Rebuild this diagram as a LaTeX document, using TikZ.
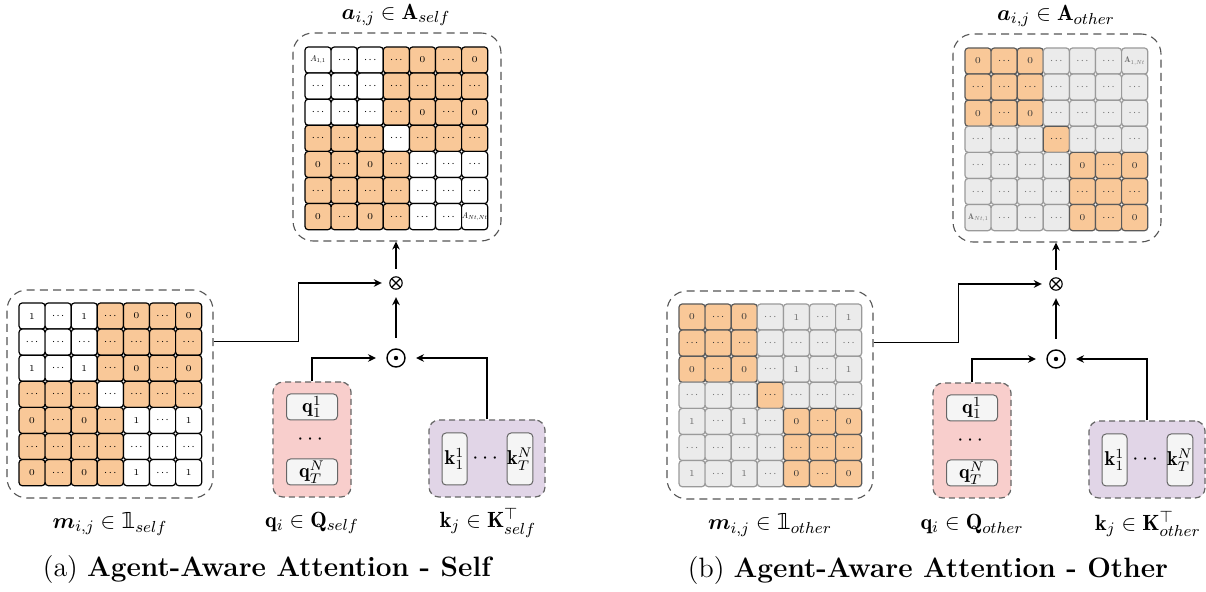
\documentclass[tikz,border=0pt]{standalone}
\usepackage{amsmath}
\usepackage{fontspec}
\newfontfamily\dvsfam{DejaVu Sans}
\usetikzlibrary{arrows.meta,calc}

% double-struck one for the indicator set
\newcommand\indic{\text{\dvsfam\iffontchar\font"1D7D9 \symbol{"1D7D9}\else\rmfamily 1\kern-0.28em l\fi}}
% small entries of the grids
\newcommand\cdt{${\cdot}{\cdot}{\cdot}$}
\newcommand\entry[1]{{\fontsize{10}{12}\selectfont\scalebox{0.42}{$#1$}}}

\definecolor{cellor}{HTML}{F9C898}
\definecolor{orbd}{HTML}{5A5A5A}
\definecolor{ortxt}{HTML}{333333}
\definecolor{cellgr}{HTML}{EBEBEB}
\definecolor{grbd}{HTML}{9A9A9A}
\definecolor{grtxt}{HTML}{707070}
\definecolor{dashgray}{HTML}{555555}
\definecolor{qfill}{HTML}{F8CECC}
\definecolor{kfill}{HTML}{E1D5E7}
\definecolor{vecfill}{HTML}{F5F5F5}
\definecolor{vecbd}{HTML}{666666}

\tikzset{
  cellbase/.style={rectangle, rounded corners=1.6pt, minimum width=13.05pt,
    minimum height=13.05pt, inner sep=0pt, line width=0.6pt,
    font=\fontsize{4.5}{5.4}\selectfont},
  dbox/.style={rectangle, draw=dashgray, dash pattern=on 4pt off 2.6pt,
    line width=0.55pt, rounded corners=10pt, inner sep=0pt},
  vecgroup/.style={rectangle, draw=vecbd, dash pattern=on 3pt off 2pt,
    line width=0.6pt, rounded corners=5pt, inner sep=0pt},
  vecbox/.style={rectangle, draw=vecbd, fill=vecfill, rounded corners=2pt,
    line width=0.5pt, inner sep=0pt, font=\fontsize{10}{11}\selectfont},
  arr/.style={-{Stealth[length=4pt,width=3.8pt]}, line width=0.75pt},
  lab/.style={font=\fontsize{11}{13}\selectfont},
  capfont/.style={font=\fontsize{14}{17}\selectfont},
  odotnode/.style={circle, draw, line width=0.7pt, minimum size=9pt,
    inner sep=0pt, outer sep=5.5pt},
  otimesnode/.style={circle, draw, line width=0.55pt, minimum size=6.2pt,
    inner sep=0pt, outer sep=4pt},
}

% 7x7 grid of cells: #1 name prefix, #2/#3 top-left corner, #4 kind
% kind 1: self scores, 2: self mask, 3: other scores, 4: other mask
\newcommand\gridmat[4]{%
  \foreach \gr in {1,...,7}{%
    \foreach \gc in {1,...,7}{%
      \pgfmathtruncatemacro\blk{((\gr<4)&&(\gc<4))||((\gr>4)&&(\gc>4))||((\gr==4)&&(\gc==4))}%
      \pgfmathtruncatemacro\key{(mod(\gr,2)==1)&&(mod(\gc,2)==1)}%
      \def\celltxt{\cdt}%
      \ifnum#4<3
        \def\ctext{black}\def\cdraw{black}%
        \ifnum\blk=1 \def\cfill{white}\else\def\cfill{cellor}\fi
      \else
        \ifnum\blk=1 \def\cfill{cellor}\def\cdraw{orbd}\def\ctext{ortxt}%
        \else\def\cfill{cellgr}\def\cdraw{grbd}\def\ctext{grtxt}\fi
      \fi
      \ifcase#4\or
        \ifnum\key=1 \ifnum\blk=0 \def\celltxt{0}\fi\fi
        \ifnum\gr\gc=11 \def\celltxt{\entry{A_{1,1}}}\fi
        \ifnum\gr\gc=77 \def\celltxt{\entry{A_{Nt,Nt}}}\fi
      \or
        \ifnum\key=1 \ifnum\blk=1 \def\celltxt{1}\else\def\celltxt{0}\fi\fi
      \or
        \ifnum\key=1 \ifnum\blk=1 \def\celltxt{0}\fi\fi
        \ifnum\gr\gc=17 \def\celltxt{\entry{\mathbf{A}_{1,Nt}}}\fi
        \ifnum\gr\gc=71 \def\celltxt{\entry{\mathbf{A}_{Nt,1}}}\fi
      \or
        \ifnum\key=1 \ifnum\blk=1 \def\celltxt{0}\else\def\celltxt{1}\fi\fi
      \fi
      \node[cellbase, fill=\cfill, draw=\cdraw, text=\ctext] (#1-\gr-\gc)
        at ({#2+(\gc-0.5)*26.1},{#3+(\gr-0.5)*26.1}) {\celltxt};
    }%
  }%
}

% one attention panel: #1 prefix, #2 score kind, #3 mask kind,
% #4 subscript, #5 caption word, #6 letter
\newcommand\attnpanel[6]{%
  \node[lab] (#1title) at (396,15) {$\boldsymbol{a}_{i,j} \in \mathbf{A}_{#4}$};
  \node[dbox, minimum width=104pt, minimum height=104pt] (#1boxA) at (397,137) {};
  \gridmat{#1A}{305}{47}{#2}
  % combination operators
  \node[otimesnode] (#1ot) at (396,283) {};
  \draw[line width=0.55pt] ([shift={(45:3.1pt)}]#1ot.center) -- ([shift={(225:3.1pt)}]#1ot.center);
  \draw[line width=0.55pt] ([shift={(135:3.1pt)}]#1ot.center) -- ([shift={(315:3.1pt)}]#1ot.center);
  \node[odotnode] (#1od) at (396,358) {};
  \fill (#1od.center) circle (1.1pt);
  % mask
  \node[dbox, minimum width=103pt, minimum height=104pt] (#1boxM) at (110,394) {};
  \gridmat{#1M}{19}{303}{#3}
  % queries
  \node[vecgroup, fill=qfill, minimum width=39pt, minimum height=57.5pt] (#1boxQ) at (312,439.5) {};
  \node[vecbox, minimum width=25.5pt, minimum height=13pt] (#1q1) at (312,407) {$\mathbf{q}_1^1$};
  \node[font=\fontsize{11}{13}\selectfont, inner sep=0pt] (#1qd) at (312,440) {$\cdots$};
  \node[vecbox, minimum width=25.5pt, minimum height=13pt] (#1qN) at (312,472) {$\mathbf{q}_T^N$};
  % keys
  \node[vecgroup, fill=kfill, minimum width=58pt, minimum height=38.5pt] (#1boxK) at (487,458.5) {};
  \node[vecbox, minimum width=12.5pt, minimum height=26pt] (#1k1) at (454.5,459) {$\mathbf{k}_1^1$};
  \node[font=\fontsize{11}{13}\selectfont, inner sep=0pt] (#1kd) at (487,459) {$\cdots$};
  \node[vecbox, minimum width=12.5pt, minimum height=26pt] (#1kN) at (520,459) {$\mathbf{k}_T^N$};
  % connectors
  \draw[arr] (#1ot.north) -- (#1ot.north |- #1boxA.south);
  \draw[arr] (#1od.north) -- (#1ot.south);
  \draw[arr] ($(#1boxM.north east)!0.25!(#1boxM.south east)$) -- ++(85,0) |- (#1ot.west);
  \draw[arr] (#1boxQ.north) |- (#1od.west);
  \draw[arr] (#1boxK.north) |- (#1od.east);
  % labels
  \node[lab] (#1mlab) at (110,524) {$\boldsymbol{m}_{i,j} \in \indic_{#4}$};
  \node[lab] (#1qlab) at (312,523) {$\mathbf{q}_i \in \mathbf{Q}_{#4}$};
  \node[lab] (#1klab) at (488,523) {$\mathbf{k}_j \in \mathbf{K}^{\top}_{#4}$};
  \node[capfont] (#1cap) at (268,570) {(#6) \textbf{Agent-Aware Attention - #5}};
}

\begin{document}
\begin{tikzpicture}[x=0.5pt, y=-0.5pt]
  \useasboundingbox (0,0) rectangle (1206,592);
  \attnpanel{a}{1}{2}{self}{Self}{a}
  \begin{scope}[shift={(660,1)}]
    \attnpanel{b}{3}{4}{other}{Other}{b}
  \end{scope}
\end{tikzpicture}
\end{document}
